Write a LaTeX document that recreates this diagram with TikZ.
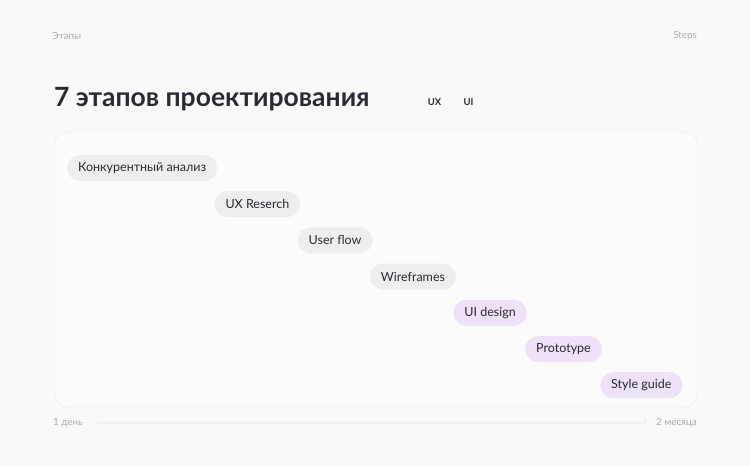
\documentclass[tikz,border=0pt]{standalone}
\usepackage{fontspec}
\setmainfont{Lato}
\usetikzlibrary{positioning}
\definecolor{pagebg}{HTML}{FAF9FA}
\definecolor{panelbg}{HTML}{FCFBFC}
\definecolor{panelline}{HTML}{ECE9EC}
\definecolor{uxpill}{HTML}{EFEEEF}
\definecolor{uipill}{HTML}{EDE2F7}
\definecolor{ink}{HTML}{2B2A33}
\definecolor{muted}{HTML}{ABAAAF}
\newcommand{\pillgap}{9.8pt}

\begin{document}
\begin{tikzpicture}[x=1pt,y=-1pt,
  pill/.style={rounded corners=13pt,minimum height=26pt,inner xsep=11pt,inner ysep=0pt,
    text=ink,font=\fontsize{12.5}{14}\selectfont},
  ux/.style={pill,fill=uxpill},
  ui/.style={pill,fill=uipill},
  small/.style={text=muted,font=\fontsize{9.8}{11}\selectfont,inner sep=0pt}]
  \fill[pagebg] (0,0) rectangle (750,466);
  \useasboundingbox (0,0) rectangle (750,466);

  \node[small,anchor=west] (stages) at (52,36) {Этапы};
  \node[small,anchor=east] (steps)  at (697,36) {Steps};

  \node[anchor=base west,inner sep=0pt,text=ink,font=\fontsize{26.5}{30}\selectfont\bfseries]
    (title) at (54,106) {7 этапов проектирования};
  \node[inner sep=0pt,text=ink,font=\fontsize{9.5}{11}\selectfont\bfseries] (uxtag) at (434.5,102) {UX};
  \node[inner sep=0pt,text=ink,font=\fontsize{9.5}{11}\selectfont\bfseries] (uitag) at (468.5,102) {UI};

  \draw[panelline,fill=panelbg,rounded corners=12pt] (55,132) rectangle (697,407);

  \node[ux,anchor=west] (konk) at (67,168) {Конкурентный анализ};
  \node[ux,below right=\pillgap and -3pt of konk] (research) {UX Reserch};
  \node[ux,below right=\pillgap and -3pt of research] (flow) {User flow};
  \node[ux,below right=\pillgap and -3pt of flow] (wire) {Wireframes};
  \node[ui,below right=\pillgap and -3pt of wire] (design) {UI design};
  \node[ui,below right=\pillgap and -2pt of design] (proto) {Prototype};
  \node[ui,below right=\pillgap and -2pt of proto] (guide) {Style guide};

  \node[small,anchor=west] (day)   at (53,423) {1 день};
  \node[small,anchor=east] (month) at (697,423) {2 месяца};
  \draw[line width=1.5pt,color=panelline!70] (97,423) -- (645,423);
  \draw[line width=1pt,color=panelline] (645,419) -- (645,427);

\end{tikzpicture}
\end{document}
